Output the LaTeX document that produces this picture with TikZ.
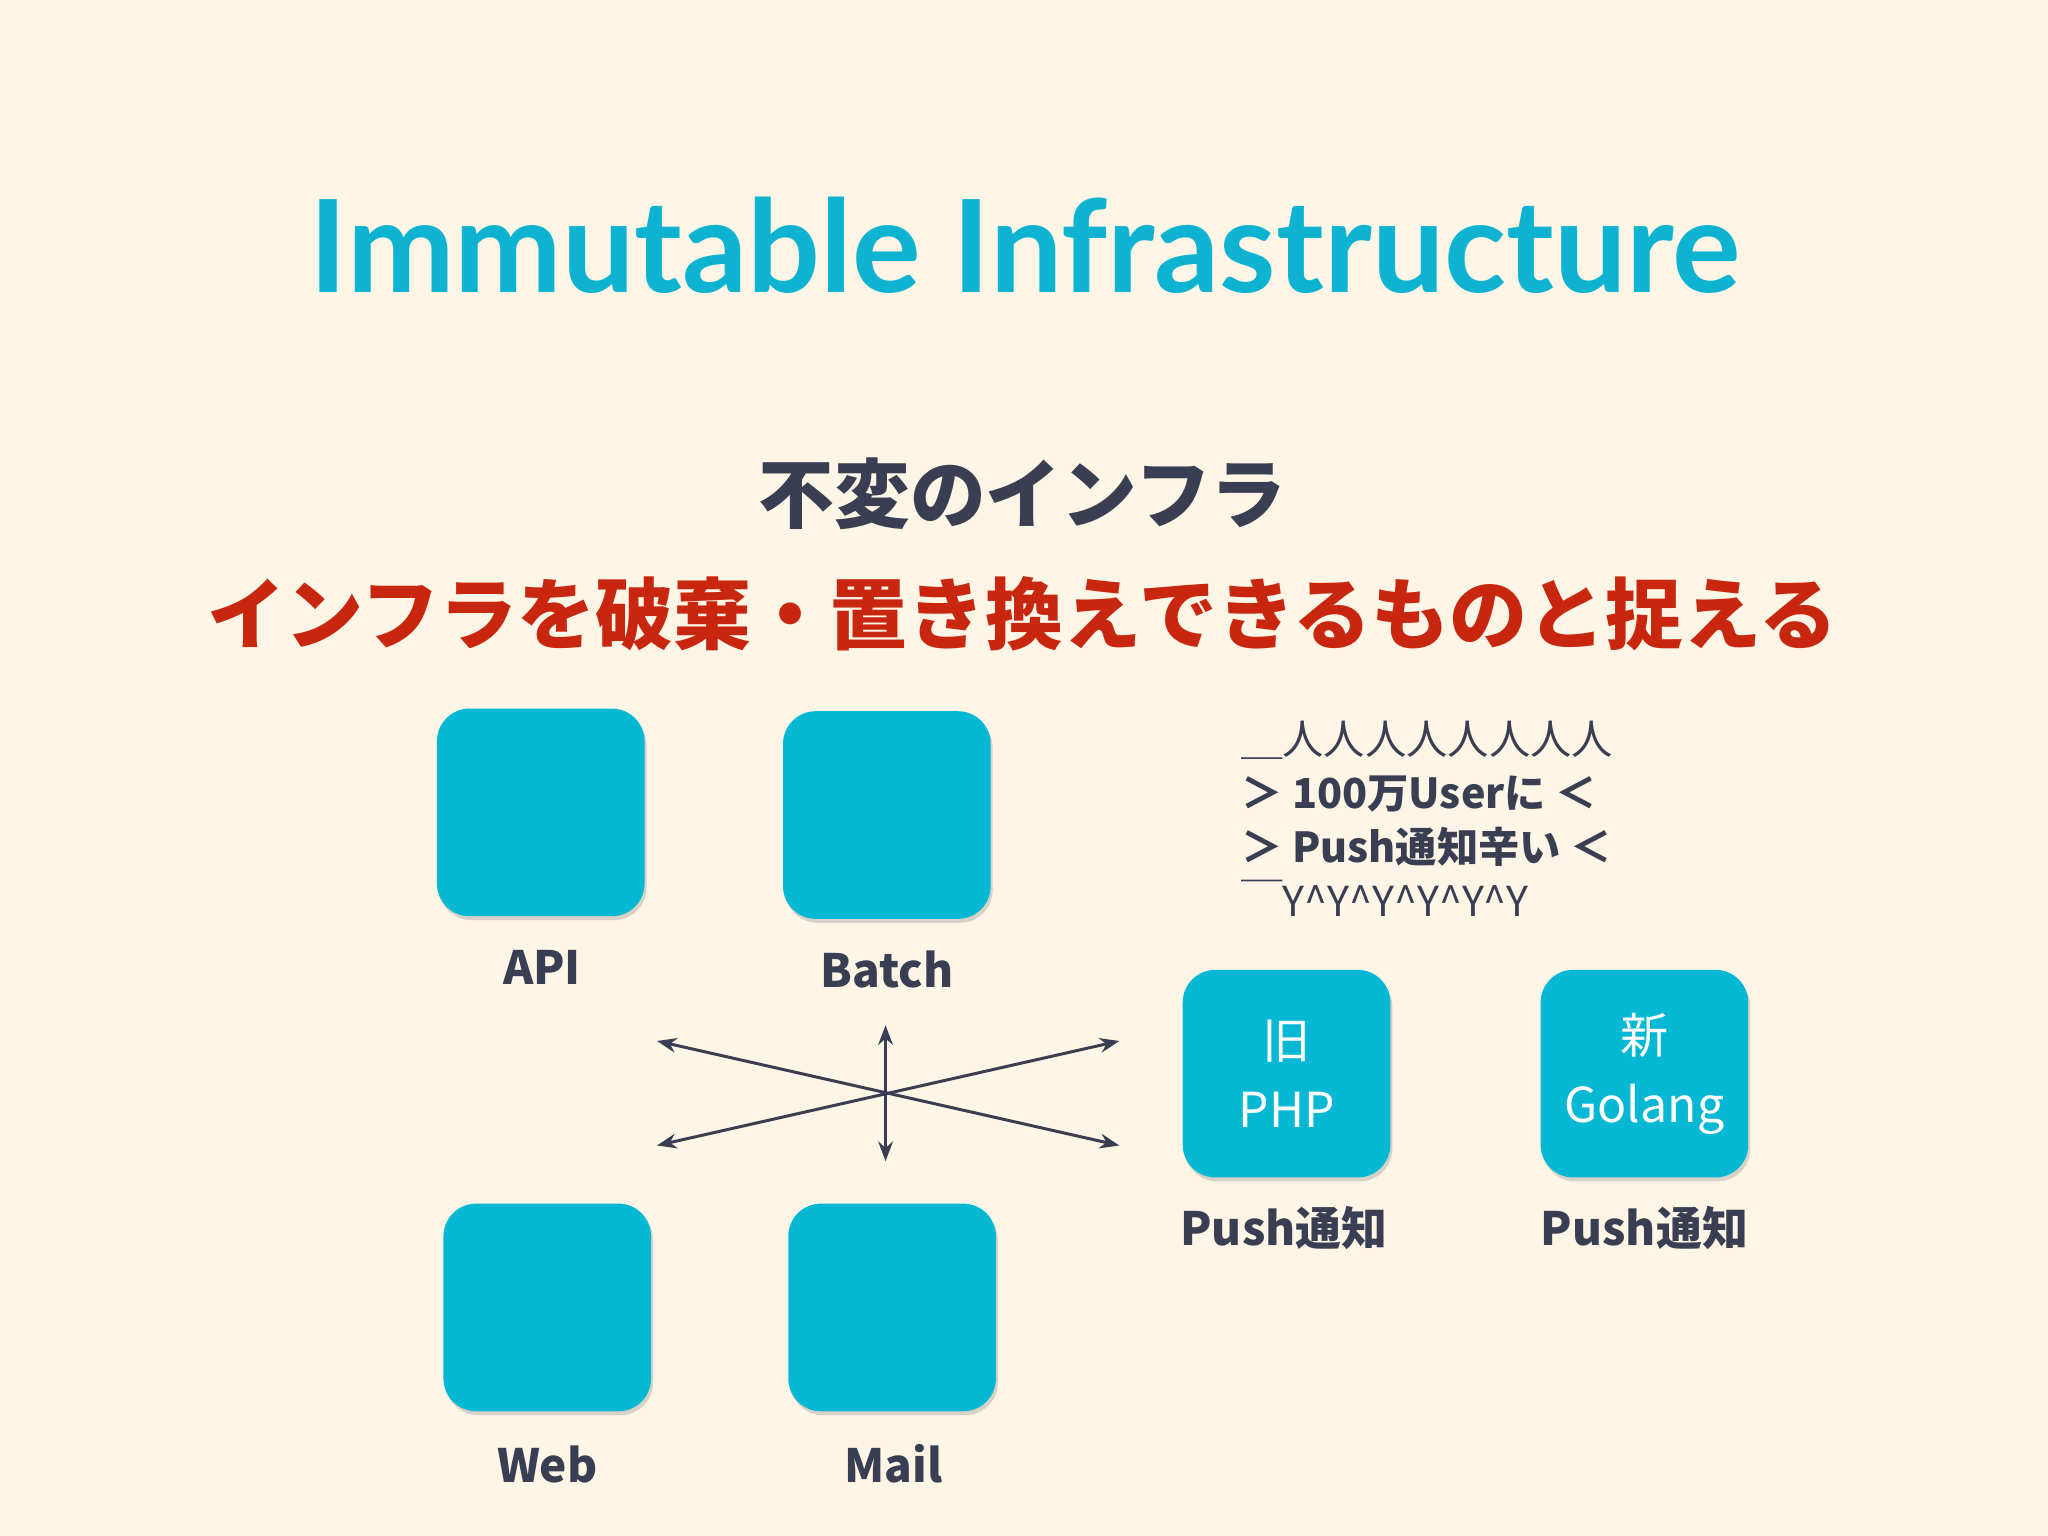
\documentclass[tikz,border=0pt]{standalone}
\usepackage{fontspec}
\setmainfont{Noto Sans CJK JP}
\newfontfamily\titlefont{Lato}
\usetikzlibrary{shadows,arrows.meta}
\definecolor{bg}{HTML}{FDF5E6}
\definecolor{cy}{HTML}{06B8D4}
\definecolor{tc}{HTML}{0DB3D1}
\definecolor{dk}{HTML}{3A3E52}
\definecolor{rd}{HTML}{C8260E}
\begin{document}
\begin{tikzpicture}[x=0.02cm,y=-0.02cm,
 box/.style={fill=cy,rounded corners=0.5cm,minimum width=3.18cm,minimum height=3.18cm,inner sep=0,drop shadow={opacity=0.3,shadow xshift=0.03cm,shadow yshift=-0.06cm}},
 lbl/.style={text=dk,font=\fontsize{20}{24}\selectfont\bfseries},
 btxt/.style={text=white,font=\fontsize{21}{30}\selectfont,align=center},
 arr/.style={dk,line width=1.3pt,{Stealth[length=0.3cm]}-{Stealth[length=0.3cm]}}]
\fill[bg] (0,0) rectangle (1568,1176);
\node[text=tc,font=\titlefont\fontsize{56}{60}\selectfont\bfseries] (t) at (785,188) {Immutable Infrastructure};
\node[text=dk,font=\fontsize{33}{36}\selectfont\bfseries] (s) at (783,378) {不変のインフラ};
\node[text=rd,font=\fontsize{34}{38}\selectfont\bfseries] (r) at (783,470) {インフラを破棄・置き換えできるものと捉える};
\node[box] (api) at (414,622) {};
\node[box] (batch) at (679,624) {};
\node[box] (web) at (419,1001) {};
\node[box] (mail) at (683,1001) {};
\node[box] (php) at (985,822) {};
\node[btxt] at (php) {旧\\PHP};
\node[box] (go) at (1259,822) {};
\node[btxt] at (go) {新\\Golang};
\node[lbl] (la) at (415,741) {API};
\node[lbl] (lb) at (679,742) {Batch};
\node[lbl] (lw) at (419,1121) {Web};
\node[lbl] (lm) at (684,1121) {Mail};
\node[lbl] (lp) at (983,940) {Push通知};
\node[lbl] (lg) at (1259,940) {Push通知};
\coordinate (a1) at (503,797); \coordinate (a2) at (857,877);
\coordinate (b1) at (503,877); \coordinate (b2) at (857,797);
\coordinate (c1) at (678,785); \coordinate (c2) at (678,889);
\draw[arr] (a1) -- (a2);
\draw[arr] (b1) -- (b2);
\draw[arr] (c1) -- (c2);
\node[text=dk,anchor=north west,align=left,font=\fontsize{18}{23.5}\selectfont,inner sep=0] (blk) at (950,552)
{＿人人人人人人人人\\ {\bfseries ＞ 100万Userに ＜}\\ {\bfseries ＞ Push通知辛い ＜}\\ ￣Y\^{}Y\^{}Y\^{}Y\^{}Y\^{}Y};
\end{tikzpicture}
\end{document}
